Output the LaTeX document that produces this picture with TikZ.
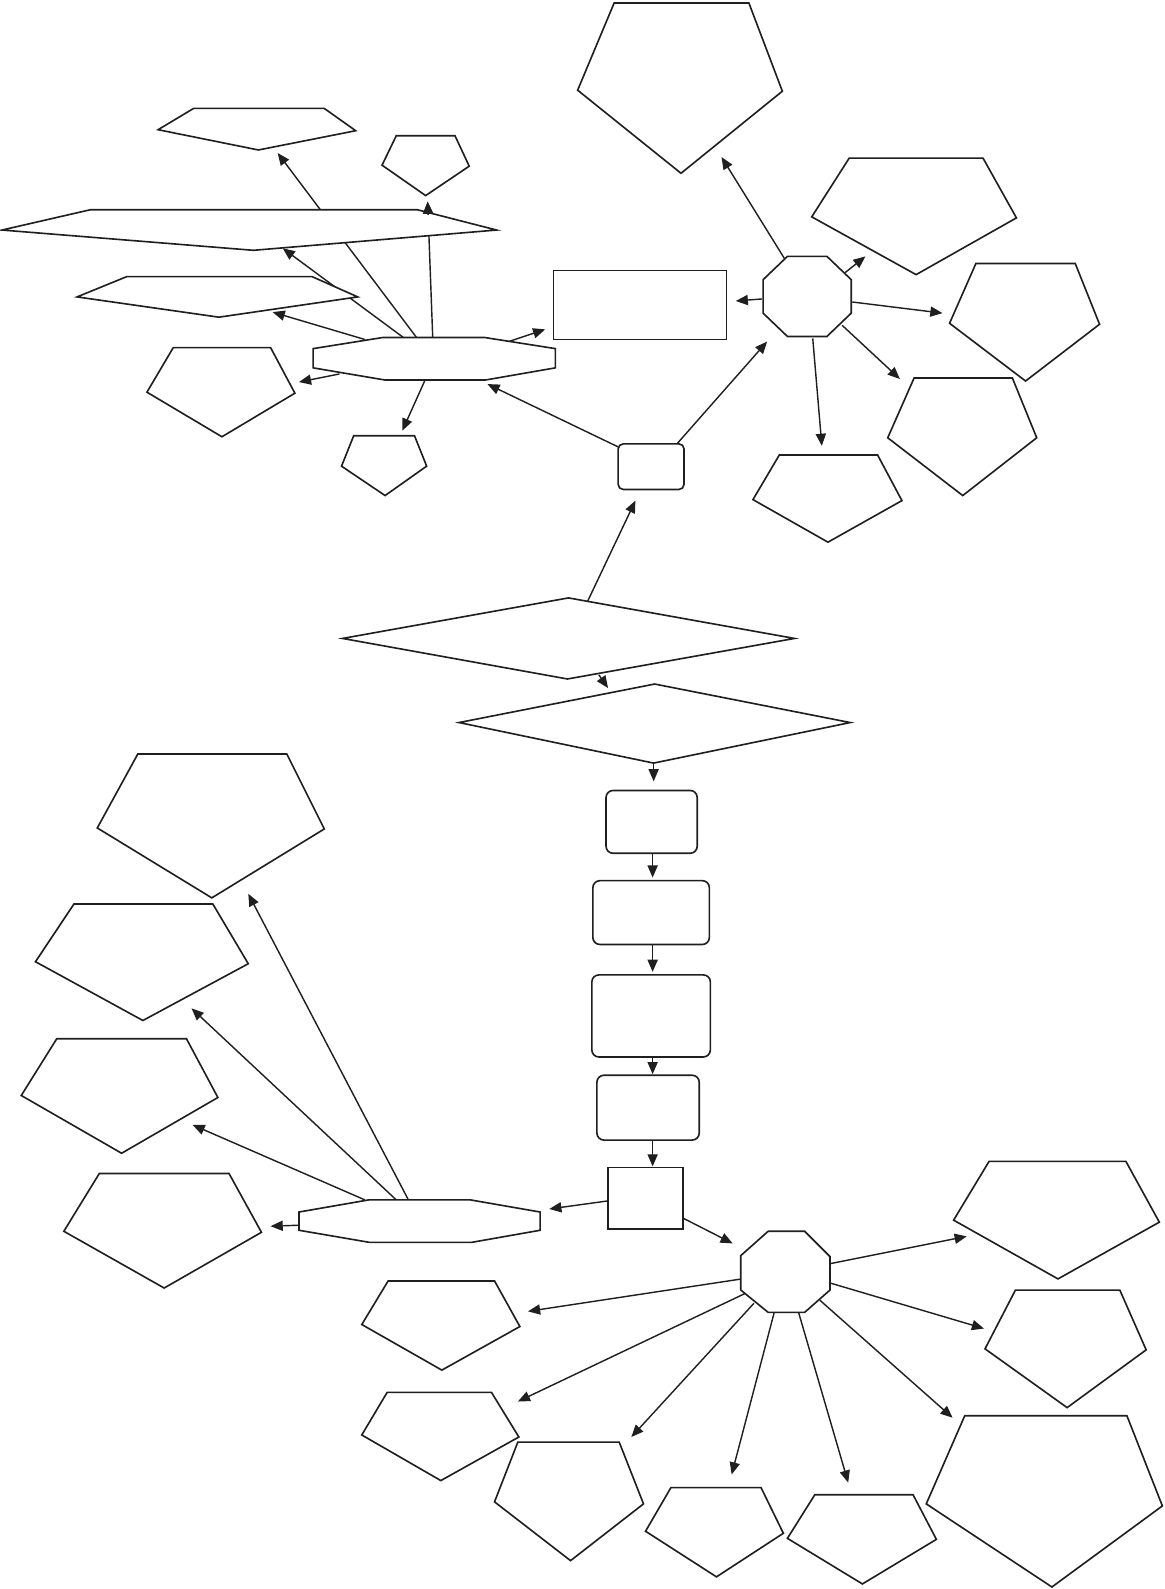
\documentclass[tikz,border=0pt]{standalone}
\usetikzlibrary{arrows.meta}
\begin{document}
\begin{tikzpicture}[x=1pt,y=-1pt,
  shp/.style={draw=black!88, line width=1.6pt, fill=white, line join=miter},
  rbox/.style={shp, rounded corners=7pt},
  conn/.style={draw=black!88, line width=1.4pt, -{Triangle[length=12pt,width=10pt]}}]
\useasboundingbox (0,0) rectangle (1149,1568);

% ---------- connector end points ----------
% top-left cluster (from octagon F)
\coordinate (fa1) at (411,333); \coordinate (fa2) at (274,151);
\coordinate (fb1) at (427,333); \coordinate (fb2) at (422,199);
\coordinate (fc1) at (398,333); \coordinate (fc2) at (279,245);
\coordinate (fd1) at (360,335); \coordinate (fd2) at (269,308);
\coordinate (fe1) at (335,369); \coordinate (fe2) at (295,377);
\coordinate (fg1) at (419,376); \coordinate (fg2) at (397,425);
\coordinate (fh1) at (502,337); \coordinate (fh2) at (538,325);
\coordinate (of1) at (610,441); \coordinate (of2) at (481,379);
\coordinate (oi1) at (668,438); \coordinate (oi2) at (757,337);
\coordinate (po1) at (580,593); \coordinate (po2) at (627,494);
% top-right cluster (from octagon I)
\coordinate (ij1) at (774,255); \coordinate (ij2) at (712,155);
\coordinate (ik1) at (834,269); \coordinate (ik2) at (854,253);
\coordinate (il1) at (841,298); \coordinate (il2) at (930,309);
\coordinate (im1) at (831,321); \coordinate (im2) at (888,374);
\coordinate (iN1) at (802,334); \coordinate (iN2) at (811,440);
\coordinate (ih1) at (752,295); \coordinate (ih2) at (726,297);
% middle chain
\coordinate (pq1) at (591,666); \coordinate (pq2) at (600,679);
\coordinate (qr1) at (645,754); \coordinate (qr2) at (645,771);
\coordinate (r12a) at (644,842); \coordinate (r12b) at (644,866);
\coordinate (r23a) at (644,932); \coordinate (r23b) at (644,959);
\coordinate (r34a) at (644,1043); \coordinate (r34b) at (644,1060);
\coordinate (r4sa) at (644,1125); \coordinate (r4sb) at (644,1151);
% bottom clusters
\coordinate (su1) at (600,1185); \coordinate (su2) at (542,1193);
\coordinate (sv1) at (674,1202); \coordinate (sv2) at (723,1227);
\coordinate (ut1a) at (403,1184); \coordinate (ut1b) at (245,882);
\coordinate (ut2a) at (391,1184); \coordinate (ut2b) at (189,995);
\coordinate (ut3a) at (360,1184); \coordinate (ut3b) at (190,1110);
\coordinate (ut4a) at (295,1209); \coordinate (ut4b) at (267,1210);
\coordinate (vw1a) at (819,1247); \coordinate (vw1b) at (954,1220);
\coordinate (vw2a) at (819,1266); \coordinate (vw2b) at (971,1311);
\coordinate (vw3a) at (809,1283); \coordinate (vw3b) at (940,1399);
\coordinate (vw4a) at (788,1295); \coordinate (vw4b) at (837,1463);
\coordinate (vw5a) at (764,1295); \coordinate (vw5b) at (722,1455);
\coordinate (vw6a) at (744,1286); \coordinate (vw6b) at (623,1418);
\coordinate (vw7a) at (736,1276); \coordinate (vw7b) at (511,1383);
\coordinate (vw8a) at (732,1262); \coordinate (vw8b) at (521,1294);

% ---------- connectors (drawn first, shapes cover them) ----------
\foreach \a/\b in {fa1/fa2,fb1/fb2,fc1/fc2,fd1/fd2,fe1/fe2,fg1/fg2,fh1/fh2,
  of1/of2,oi1/oi2,po1/po2,ij1/ij2,ik1/ik2,il1/il2,im1/im2,iN1/iN2,ih1/ih2,
  pq1/pq2,qr1/qr2,r12a/r12b,r23a/r23b,r34a/r34b,r4sa/r4sb,su1/su2,sv1/sv2,
  ut1a/ut1b,ut2a/ut2b,ut3a/ut3b,ut4a/ut4b,vw1a/vw1b,vw2a/vw2b,vw3a/vw3b,
  vw4a/vw4b,vw5a/vw5b,vw6a/vw6b,vw7a/vw7b,vw8a/vw8b}
  \draw[conn] (\a) -- (\b);

% ---------- shapes: top-left cluster ----------
\draw[shp] (156,128) -- (191,107) -- (320,107) -- (351,129) -- (255,148) -- cycle; % A
\draw[shp] (391,134) -- (449,134) -- (463,164) -- (420,193) -- (377,163) -- cycle; % B
\draw[shp] (2,227) -- (89,207) -- (412,207) -- (490,227) -- (250,247) -- cycle;   % C
\draw[shp] (76,293) -- (125,273) -- (308,273) -- (353,293) -- (216,313) -- cycle; % D
\draw[shp] (145,387) -- (171,343) -- (267,343) -- (291,388) -- (219,431) -- cycle; % E
\draw[shp] (309,344) -- (378,333) -- (478,333) -- (548,344) -- (548,363) -- (479,375) -- (380,375) -- (309,363) -- cycle; % F
\draw[shp] (337,460) -- (349,430) -- (409,430) -- (421,460) -- (380,489) -- cycle; % G
% arrow head of F->B shows above C
\coordinate (fbh) at (422.4,212);
\draw[conn] (fbh) -- (fb2);

% ---------- top-right cluster ----------
\draw[shp] (546,267) rectangle (717,335); % H
\draw[shp] (753,276) -- (777,253) -- (816,253) -- (840,276) -- (840,309) -- (816,332) -- (777,332) -- (753,309) -- cycle; % I
\draw[shp] (570,89) -- (606,3) -- (739,3) -- (772,90) -- (672,171) -- cycle; % J
\draw[shp] (801,214) -- (838,156) -- (970,156) -- (1003,215) -- (904,271) -- cycle; % K
\draw[shp] (937,319) -- (963,260) -- (1061,260) -- (1085,320) -- (1012,376) -- cycle; % L
\draw[shp] (876,432) -- (902,373) -- (999,373) -- (1023,432) -- (950,489) -- cycle; % M
\draw[shp] (743,493) -- (769,449) -- (866,449) -- (890,494) -- (817,535) -- cycle; % N
\draw[shp, rounded corners=5pt] (610,438) rectangle (675,483); % O

% ---------- middle chain ----------
\draw[shp] (338,630) -- (561,590) -- (784,630) -- (560,670) -- cycle; % P
\draw[shp] (453,713) -- (646,675) -- (839,713) -- (645,753) -- cycle; % Q
\draw[rbox] (598,780) rectangle (688,842);   % R1
\draw[rbox] (585,869) rectangle (700,932);   % R2
\draw[rbox] (584,962) rectangle (701,1043);  % R3
\draw[rbox] (589,1061) rectangle (690,1125); % R4
\draw[shp] (600,1152) rectangle (674,1213);  % S

% ---------- lower-left cluster ----------
\draw[shp] (96,817) -- (136,744) -- (283,744) -- (320,818) -- (209,886) -- cycle;   % T1
\draw[shp] (35,949) -- (73,892) -- (210,892) -- (245,951) -- (141,1007) -- cycle;   % T2
\draw[shp] (21,1081) -- (56,1025) -- (184,1025) -- (215,1083) -- (120,1138) -- cycle; % T3
\draw[shp] (63,1215) -- (98,1158) -- (226,1158) -- (258,1216) -- (162,1271) -- cycle; % T4
\draw[shp] (295,1196) -- (364,1184) -- (464,1184) -- (533,1196) -- (533,1214) -- (465,1226) -- (365,1226) -- (295,1214) -- cycle; % U

% ---------- lower-right cluster ----------
\draw[shp] (731,1239) -- (758,1215) -- (794,1215) -- (819,1240) -- (819,1273) -- (794,1295) -- (758,1295) -- (731,1273) -- cycle; % V
\draw[shp] (941,1204) -- (976,1146) -- (1111,1146) -- (1144,1206) -- (1044,1262) -- cycle; % W1
\draw[shp] (972,1331) -- (1002,1273) -- (1105,1273) -- (1131,1332) -- (1053,1389) -- cycle; % W2
\draw[shp] (914,1484) -- (952,1397) -- (1112,1397) -- (1147,1486) -- (1038,1566) -- cycle; % W3
\draw[shp] (777,1518) -- (804,1475) -- (901,1475) -- (924,1519) -- (851,1563) -- cycle;   % W4
\draw[shp] (637,1511) -- (662,1468) -- (751,1468) -- (773,1513) -- (707,1556) -- cycle;   % W5
\draw[shp] (488,1482) -- (511,1423) -- (611,1423) -- (635,1484) -- (563,1540) -- cycle;   % W6
\draw[shp] (357,1416) -- (382,1374) -- (485,1374) -- (512,1418) -- (435,1461) -- cycle;   % W7
\draw[shp] (357,1307) -- (383,1264) -- (488,1264) -- (513,1309) -- (436,1352) -- cycle;   % W8
\end{tikzpicture}
\end{document}
